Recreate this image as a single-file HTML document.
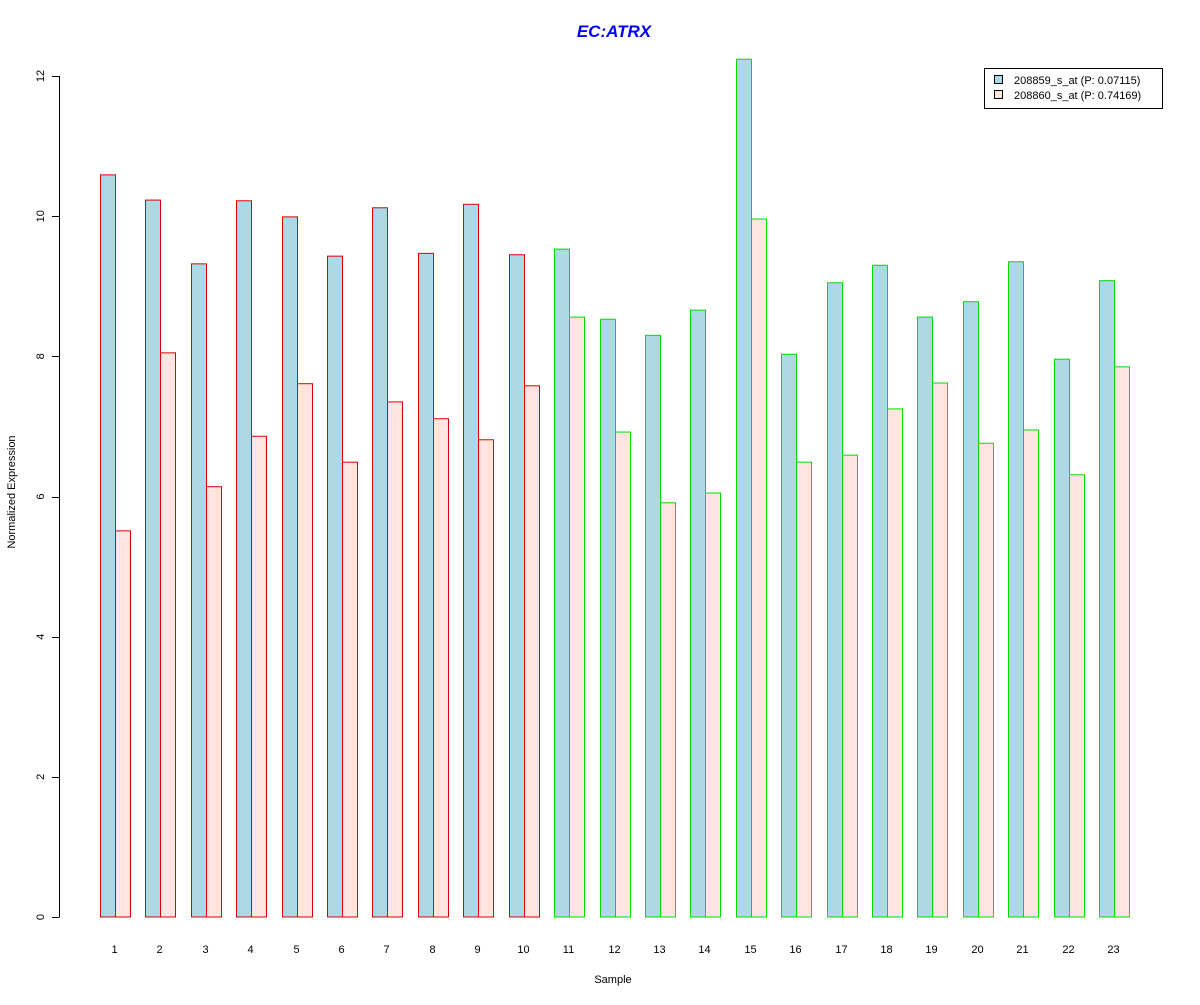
<!DOCTYPE html>
<html><head><meta charset="utf-8"><style>
body{margin:0;background:#fff}
svg text{font-family:"Liberation Sans",Arial,sans-serif}
</style></head><body>
<svg id="chart" width="1200" height="1000" xmlns="http://www.w3.org/2000/svg">
<rect width="1200" height="1000" fill="#fff"/>
<text x="614" y="37" text-anchor="middle" font-size="17" font-weight="bold" font-style="italic" fill="#0000ff">EC:ATRX</text>
<text x="613" y="983" text-anchor="middle" font-size="11">Sample</text>
<text transform="translate(15,492) rotate(-90)" text-anchor="middle" font-size="11">Normalized Expression</text>
<g id="yaxis"></g>
<g id="bars"></g>
<g id="xlabels"></g>
<g>
<rect x="984.5" y="68.5" width="178" height="40" fill="#fff" stroke="#000"/>
<rect x="994.5" y="75.5" width="8" height="8" fill="#add8e6" stroke="#000"/>
<text x="1014" y="84" font-size="11">208859_s_at (P: 0.07115)</text>
<rect x="994.5" y="90.5" width="8" height="8" fill="#ffe4e1" stroke="#000"/>
<text x="1014" y="99" font-size="11">208860_s_at (P: 0.74169)</text>
</g>
</svg>
<script>
const categories = ["1","2","3","4","5","6","7","8","9","10","11","12","13","14","15","16","17","18","19","20","21","22","23"];
const series1 = [10.59,10.23,9.32,10.22,9.99,9.43,10.12,9.47,10.17,9.45,9.53,8.53,8.30,8.66,12.24,8.03,9.05,9.30,8.56,8.78,9.35,7.96,9.08];
const series2 = [5.51,8.05,6.14,6.86,7.61,6.49,7.35,7.11,6.81,7.58,8.56,6.92,5.91,6.05,9.96,6.49,6.59,7.25,7.62,6.76,6.95,6.31,7.85];
const groups = ["a","a","a","a","a","a","a","a","a","a","b","b","b","b","b","b","b","b","b","b","b","b","b"];
const yTicks = [0,2,4,6,8,10,12];

const NS="http://www.w3.org/2000/svg";
function y(v){return 917-v*70.08;}
function x(i){return 100+i*45.41;}
function mk(t,a,p){const e=document.createElementNS(NS,t);for(const k in a)e.setAttribute(k,a[k]);p.appendChild(e);return e;}
const ya=document.getElementById('yaxis');
const axisLine=mk('line',{x1:59.5,x2:59.5,y1:y(0),y2:y(12),stroke:'#000'},ya);


yTicks.forEach(t=>{
  const tk=mk('line',{x1:52,x2:59.5,y1:Math.round(y(t))+0.5,y2:Math.round(y(t))+0.5,stroke:'#000'},ya);
  
  
  const tx=mk('text',{transform:`translate(44,${y(t)}) rotate(-90)`,'text-anchor':'middle','font-size':11},ya);
  tx.textContent=t;
  
  
});
const bg=document.getElementById('bars'), xl=document.getElementById('xlabels');
categories.forEach((c,i)=>{
  const col=groups[i]==="a"?"#dd0000":"#00dd00";
  const x0=Math.round(x(i))+0.5;
  const b1=mk('rect',{x:x0,y:y(series1[i]),width:15,height:y(0)-y(series1[i]),fill:'#add8e6',stroke:col},bg);
  
  
  const b2=mk('rect',{x:x0+15,y:y(series2[i]),width:15,height:y(0)-y(series2[i]),fill:'#ffe4e1',stroke:col},bg);
  
  
  const t=mk('text',{x:x0+14,y:953,'text-anchor':'middle','font-size':11},xl);
  t.textContent=c;
  
  
});
</script>
</body></html>
